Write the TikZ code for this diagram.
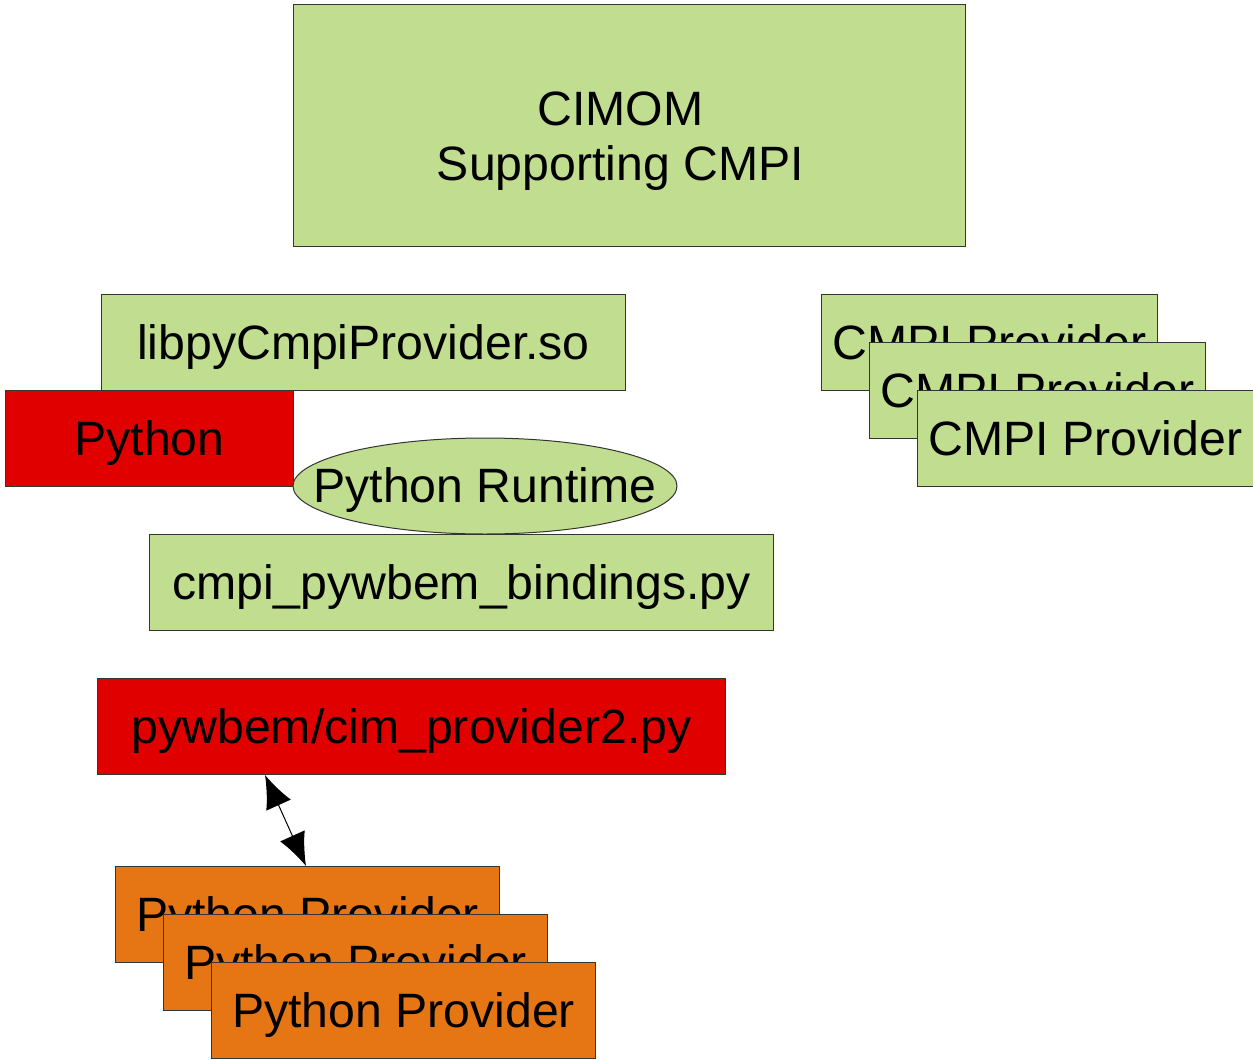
\documentclass[tikz,border=0pt]{standalone}
\usepackage{fontspec}
\setmainfont{Liberation Sans}
\usetikzlibrary{shapes.geometric,arrows.meta}
\definecolor{boxgreen}{RGB}{192,221,144}
\definecolor{boxred}{RGB}{224,0,0}
\definecolor{boxorange}{RGB}{230,118,20}
\definecolor{edgegray}{RGB}{52,52,52}
\tikzset{
  block/.style={draw=edgegray, line width=1pt, inner sep=0pt, anchor=north west,
    font=\fontsize{48.2}{55}\selectfont, align=center, text height=43pt, text depth=10pt},
  greenbox/.style={block, fill=boxgreen},
  redbox/.style={block, fill=boxred},
  orangebox/.style={block, fill=boxorange}
}
\begin{document}
\begin{tikzpicture}[x=1pt,y=-1pt]
        \useasboundingbox (0,0) rectangle (1253,1060);
        %% CIMOM
        \node[greenbox, minimum width=672, minimum height=242, text height=120pt] (cimom) at (293,4)
            {CIMOM\hspace*{18pt}\\Supporting CMPI\hspace*{18pt}};
        %% Python side
        \node[greenbox, minimum width=524, minimum height=96] (libpy) at (101,294) {libpyCmpiProvider.so};
        \node[redbox, minimum width=288, minimum height=96] (python) at (5,390) {Python};
        \node[draw=edgegray, line width=1pt, fill=boxgreen, ellipse, inner sep=0pt,
              minimum width=384, minimum height=96,
              label={[font=\fontsize{48.2}{55}\selectfont, text height=43pt, text depth=10pt, inner sep=0pt]center:Python Runtime}] (runtime) at (485,486) {};
        \node[greenbox, minimum width=624, minimum height=96] (bindings) at (149,534) {cmpi\_pywbem\_bindings.py};
        \node[redbox, minimum width=628, minimum height=96] (cimprov) at (97,678) {pywbem/cim\_provider2.py};
        %% CMPI providers
        \node[greenbox, minimum width=336, minimum height=96] (cmpiA) at (821,294) {CMPI Provider};
        \node[greenbox, minimum width=336, minimum height=96] (cmpiB) at (869,342) {CMPI Provider};
        \node[greenbox, minimum width=336, minimum height=96] (cmpiC) at (917,390) {CMPI Provider};
        %% Python providers
        \node[orangebox, minimum width=384, minimum height=96] (pyprovA) at (115,866) {Python Provider};
        \node[orangebox, minimum width=384, minimum height=96] (pyprovB) at (163,914) {Python Provider};
        \node[orangebox, minimum width=384, minimum height=96] (pyprovC) at (211,962) {Python Provider};
        %% Link
        \draw[{Latex[length=33pt,width=27pt]}-{Latex[length=33pt,width=27pt]}, line width=1pt]
            ([xshift=168pt]cimprov.south west) -- ([xshift=191pt]pyprovA.north west);
    \end{tikzpicture}
\end{document}
